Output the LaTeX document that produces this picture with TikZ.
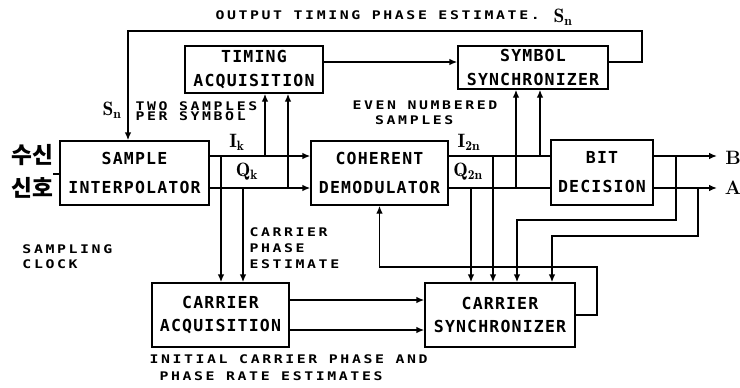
\documentclass[tikz,border=0pt]{standalone}
\usepackage{fontspec}
\usetikzlibrary{arrows.meta,positioning}
\newfontfamily\boxfnt{DejaVu Sans Mono}[LetterSpace=7]
\newfontfamily\lblfnt{DejaVu Sans Mono}[FakeStretch=1.25,LetterSpace=22]
\newfontfamily\krfnt{Noto Sans CJK KR}

\tikzset{every picture/.style={line width=0.75pt}}
\tikzset{
  blk/.style={draw,line width=1.1pt,inner sep=0pt,align=center,
    font=\boxfnt\bfseries\fontsize{12.4}{17.6}\selectfont},
  blktall/.style={blk,font=\boxfnt\bfseries\fontsize{12.4}{21.75}\selectfont},
  lbl/.style={inner sep=0pt,align=left,anchor=west,
    font=\lblfnt\bfseries\fontsize{8.9}{#1}\selectfont},
  lbl/.default=11.5,
  sig/.style={inner sep=0pt,font=\bfseries\fontsize{14.5}{14.5}\selectfont},
  kr/.style={inner sep=0pt,font=\krfnt\bfseries\fontsize{17}{17}\selectfont},
  wire/.style={line width=1.1pt},
  arr/.style={wire,-{Latex[length=6pt,width=5pt]}},
}

\begin{document}
\begin{tikzpicture}[x=0.75pt,y=0.75pt,yscale=-1,xscale=1]
\useasboundingbox (0,0) rectangle (740,387);

%Shape: Rectangle [sample interpolator]
\node[blktall,minimum width=111.75pt,minimum height=48pt] (si) at (134.5,173) {SAMPLE\\INTERPOLATOR};
%Shape: Rectangle [timing acquisition]
\node[blk,minimum width=103.5pt,minimum height=35.25pt] (ta) at (254,69.5) {TIMING\\ACQUISITION};
%Shape: Rectangle [symbol synchronizer]
\node[blk,minimum width=112.5pt,minimum height=32.25pt] (ss) at (533,67.5) {SYMBOL\\SYNCHRONIZER};
%Shape: Rectangle [coherent demodulator]
\node[blktall,minimum width=102.75pt,minimum height=48pt] (cd) at (379.5,173) {COHERENT\\DEMODULATOR};
%Shape: Rectangle [bit decision]
\node[blktall,minimum width=76.5pt,minimum height=48.75pt] (bd) at (602,172.5) {BIT\\DECISION};
%Shape: Rectangle [carrier acquisition]
\node[blk,minimum width=102.75pt,minimum height=48pt] (ca) at (220.5,315) {CARRIER\\ACQUISITION};
%Shape: Rectangle [carrier synchronizer]
\node[blk,minimum width=112.5pt,minimum height=48pt] (cs) at (500,315) {CARRIER\\SYNCHRONIZER};

% rows and columns of the wires
\coordinate (rI) at (0,156);
\coordinate (rQ) at (0,188);
\coordinate (rT) at (0,62);
\coordinate (rC1) at (0,300);
\coordinate (rC2) at (0,330);
\coordinate (tL1) at (221,0);
\coordinate (tL2) at (243,0);
\coordinate (tL3) at (265,0);
\coordinate (tL4) at (288,0);
\coordinate (tR1) at (471,0);
\coordinate (tR2) at (493,0);
\coordinate (tR3) at (516,0);
\coordinate (tR4) at (540,0);
\coordinate (tS1) at (517,0);
\coordinate (tS2) at (552,0);
\coordinate (fbR) at (642,31);
\coordinate (fbL) at (128,31);
\coordinate (fcR) at (597,267);
\coordinate (kB) at (676,220);
\coordinate (kA) at (698,236);
\coordinate (outB) at (717,156);
\coordinate (outA) at (717,188);
\coordinate (rx) at (53,174);

%Wires
\draw[wire] (rx) -- (si.west |- rx);
\draw[arr] (ss.east |- rT) -| (fbR) -- (fbL) -- (fbL |- si.north);
\draw[arr] (ta.east |- rT) -- (ss.west |- rT);
\draw[arr] (si.east |- rI) -- (cd.west |- rI);
\draw[arr] (si.east |- rQ) -- (cd.west |- rQ);
\draw[arr] (tL1 |- rI) -- (tL1 |- ca.north);
\draw[arr] (tL2 |- rQ) -- (tL2 |- ca.north);
\draw[arr] (tL3 |- rI) -- (tL3 |- ta.south);
\draw[arr] (tL4 |- rQ) -- (tL4 |- ta.south);
\draw[wire] (cd.east |- rI) -- (bd.west |- rI);
\draw[wire] (cd.east |- rQ) -- (bd.west |- rQ);
\draw[arr] (tR1 |- rQ) -- (tR1 |- cs.north);
\draw[arr] (tR2 |- rI) -- (tR2 |- cs.north);
\draw[arr] (tR3 |- rQ) -- (tR3 |- ss.south);
\draw[arr] (tR4 |- rI) -- (tR4 |- ss.south);
\draw[arr] (bd.east |- rI) -- (outB);
\draw[arr] (bd.east |- rQ) -- (outA);
\draw[arr] (kB |- rI) -- (kB) -| (tS1 |- cs.north);
\draw[arr] (kA |- rQ) -- (kA) -| (tS2 |- cs.north);
\draw[arr] (cs.east) -| (fcR) -| (cd.south);
\draw[arr] (ca.east |- rC1) -- (cs.west |- rC1);
\draw[arr] (ca.east |- rC2) -- (cs.west |- rC2);

% Text Node
\node[lbl] (ttl) at (215,15) {OUTPUT TIMING PHASE ESTIMATE.};
% Text Node
\node[sig] (sntop) at (563,17) {$\mathbf{S_n}$};
% Text Node
\node[sig] (snleft) at (112,110) {$\mathbf{S_n}$};
% Text Node
\node[lbl=7.5] (twos) at (135,111) {TWO SAMPLES\\PER SYMBOL};
% Text Node
\node[sig] (ik) at (237,142) {$\mathbf{I_k}$};
% Text Node
\node[sig] (qk) at (247,172) {$\mathbf{Q_k}$};
% Text Node
\node[lbl=10.9] (even) at (352,113) {EVEN NUMBERED\\\hspace*{17pt}SAMPLES};
% Text Node
\node[sig] (i2n) at (469,142) {$\mathbf{I_{2n}}$};
% Text Node
\node[sig] (q2n) at (468,172) {$\mathbf{Q_{2n}}$};
% Text Node
\node[sig] (lB) at (733,158) {B};
% Text Node
\node[sig] (lA) at (733,188) {A};
% Text Node
\node[kr] (kr1) at (32,155) {수신};
% Text Node
\node[kr] (kr2) at (32,188) {신호};
% Text Node
\node[lbl=11.25] (clk) at (22,256.5) {SAMPLING\\CLOCK};
% Text Node
\node[lbl=11.8] (cpe) at (249,248) {CARRIER\\PHASE\\ESTIMATE};
% Text Node
\node[lbl=12.75] (init) at (149,367.5) {INITIAL CARRIER PHASE AND\\\hspace*{7.5pt}PHASE RATE ESTIMATES};

\end{tikzpicture}
\end{document}
